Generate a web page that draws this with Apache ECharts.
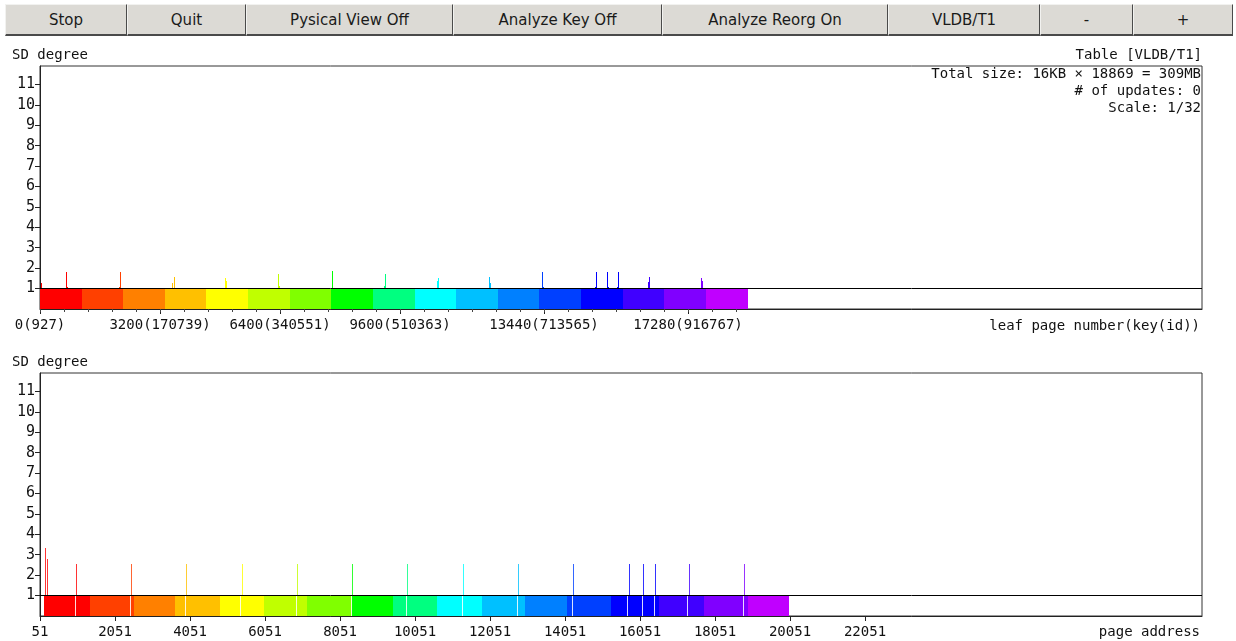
<!DOCTYPE html>
<html><head><meta charset="utf-8">
<script src="https://cdn.jsdelivr.net/npm/echarts@6/dist/echarts.min.js"></script>
<style>
html,body{margin:0;padding:0;background:#fff;width:1236px;height:641px;overflow:hidden;}
#chart{position:absolute;left:0;top:0;width:1236px;height:641px;}
#tb{position:absolute;left:5px;top:4px;height:32px;display:flex;}
.b{box-sizing:border-box;height:32px;background:#dcdad5;border-right:1px solid #4a4a4a;border-bottom:2px solid #4a4a4a;border-top:1px solid #f2f2f0;border-left:1px solid #f2f2f0;font:15px "DejaVu Sans",sans-serif;color:#1a1a1a;display:flex;align-items:center;justify-content:center;padding-top:1px;}
</style></head>
<body>
<div id="chart"></div>
<div id="tb"></div>
<script>
// ---------- data ----------
const buttonLabels = ["Stop","Quit","Pysical View Off","Analyze Key Off","Analyze Reorg On","VLDB/T1","-","+"];

const bandColors = ['#FF0000','#FF4000','#FF8000','#FFC000','#FFFF00','#C0FF00','#80FF00','#00FF00','#00FF80','#00FFFF','#00C0FF','#0080FF','#0040FF','#0000FF','#4000FF','#8000FF','#C000FF'];

// top chart: leaf page number
const topBandEdges = [0,1110,2220,3330,4440,5550,6660,7770,8880,9990,11100,12210,13320,14430,15540,16650,17760,18869];
const topSpikeX = [27,701,728,2115,2141,3528,3565,4933,4968,6347,6373,7779,9173,9200,10579,10605,11981,12000,13387,13413,14800,14827,15112,15139,15379,15405,16205,16232,17619,17645];
const topSpikeY = [1.28,1.83,1.1,1.1,1.83,1.28,1.57,1.5,1.39,1.69,1.15,1.88,1.15,1.69,1.39,1.52,1.59,1.28,1.8,1.07,1.07,1.81,1.81,1.07,1.07,1.81,1.31,1.57,1.52,1.39];
const topTickValues = [0,3200,6400,9600,13440,17280];
const topTickKeys = [927,170739,340551,510363,713565,916767];
const topMinorTicks = [0,640,1280,1920,2560,3200,3840,4480,5120,5760,6400,7040,7680,8320,8960,9600,10240,10880,11520,12160,12800,13440,14080,14720,15360,16000,16640,17280,17920,18560];

// bottom chart: page address
const bottomBandEdges = [158,1384,2558,3651,4851,6024,7171,8371,9464,10638,11838,12984,14104,15278,16558,17758,18931,20024];
const bottomSpikeX = [176,246,1011,2478,3944,5438,6904,8371,9838,11331,12798,14264,15758,16131,16451,17358,18824];
const bottomSpikeY = [3.33,2.8,2.55,2.55,2.55,2.55,2.55,2.55,2.55,2.55,2.55,2.55,2.55,2.55,2.55,2.55,2.55];
const bottomGapX = [984,2451,3918,5384,6877,8344,9811,11304,12771,14238,15704,16104,16424,17304,18798];
const bottomTickValues = [51,2051,4051,6051,8051,10051,12051,14051,16051,18051,20051,22051];

const yTickValues = [1,2,3,4,5,6,7,8,9,10,11];

// ---------- toolbar ----------
const buttonWidths = [122,119,207,209,226,152,93,100];
const tb = document.getElementById('tb');
buttonLabels.forEach((t,i)=>{const d=document.createElement('div');d.className='b';d.style.width=buttonWidths[i]+'px';d.textContent=t;tb.appendChild(d);});

// ---------- chart ----------
const FONT = '"DejaVu Sans Mono", monospace';
const FS = 14;
function colorAt(x, edges){
  for(let i=0;i<edges.length-1;i++){ if(x>=edges[i] && x<edges[i+1]) return bandColors[i]; }
  return x<edges[0] ? bandColors[0] : bandColors[bandColors.length-1];
}
function bandData(edges){ const r=[]; for(let i=0;i<edges.length-1;i++) r.push([edges[i],edges[i+1],i]); return r; }
function bandRender(params, api){
  const a = api.coord([api.value(0),1]);
  const b = api.coord([api.value(1),0]);
  const x0 = Math.round(a[0]), x1 = Math.round(b[0]);
  return {type:'rect', shape:{x:x0, y:Math.round(a[1]), width:x1-x0, height:Math.round(b[1])-Math.round(a[1])},
    style:{fill:bandColors[api.value(2)], stroke:null, lineWidth:0}};
}
function makeLineRender(colorFn, opacity){
  return function(params, api){
    const top = api.coord([api.value(0), api.value(1)]);
    const bot = api.coord([api.value(0), 0]);
    return {type:'rect', shape:{x:Math.round(top[0]), y:Math.round(top[1]), width:1, height:Math.round(bot[1])-Math.round(top[1])},
      style:{fill:colorFn(api.value(0)), stroke:null, lineWidth:0, opacity:opacity}};
  };
}

const chart = echarts.init(document.getElementById('chart'), null, {renderer:'canvas'});
const axisLineStyle = {lineStyle:{color:'#222', width:1}};
const yAxisCommon = {
  type:'value', min:0, max:11.9,
  axisLine:{show:true, ...axisLineStyle},
  axisTick:{show:true, length:5, inside:false, customValues:yTickValues, lineStyle:{color:'#222'}},
  axisLabel:{customValues:yTickValues, margin:5, color:'#111', fontFamily:FONT, fontSize:15},
  splitLine:{show:false}
};
const textStyle = {fontFamily:FONT, fontSize:FS, fill:'#111'};

chart.setOption({
  animation:false,
  grid:[
    {left:40, top:66, width:1162, height:243, show:true, borderColor:'#333', borderWidth:1, backgroundColor:'transparent'},
    {left:40, top:373, width:1162, height:243, show:true, borderColor:'#333', borderWidth:1, backgroundColor:'transparent'}
  ],
  xAxis:[
    {gridIndex:0, type:'value', min:0, max:30987,
      axisLine:{show:true, onZero:false, ...axisLineStyle},
      axisTick:{show:true, length:5, customValues:topTickValues, lineStyle:{color:'#222'}},
      axisLabel:{customValues:topTickValues, margin:9, color:'#111', fontFamily:FONT, fontSize:FS,
        formatter:(v)=>{const i=topTickValues.indexOf(v); return i>=0 ? v+'('+topTickKeys[i]+')' : '';}},
      splitLine:{show:false}},
    {gridIndex:1, type:'value', min:51, max:31038,
      axisLine:{show:true, onZero:false, ...axisLineStyle},
      axisTick:{show:true, length:5, customValues:bottomTickValues, lineStyle:{color:'#222'}},
      axisLabel:{customValues:bottomTickValues, margin:9, color:'#111', fontFamily:FONT, fontSize:FS, formatter:(v)=>String(v)},
      splitLine:{show:false}},
    {gridIndex:0, type:'value', min:0, max:30987, position:'bottom',
      axisLine:{show:false}, axisLabel:{show:false}, splitLine:{show:false},
      axisTick:{show:true, length:3, customValues:topMinorTicks, lineStyle:{color:'#444'}}}
  ],
  yAxis:[
    {gridIndex:0, ...yAxisCommon},
    {gridIndex:1, ...yAxisCommon}
  ],
  graphic:[
    {type:'text', left:12, top:48, style:{text:'SD degree', ...textStyle}},
    {type:'text', left:12, top:355, style:{text:'SD degree', ...textStyle}},
    {type:'text', right:34, top:48, style:{text:'Table [VLDB/T1]', ...textStyle}},
    {type:'text', right:35, top:67, style:{text:'Total size: 16KB \u00d7 18869 = 309MB', ...textStyle}},
    {type:'text', right:35, top:84, style:{text:'# of updates: 0', ...textStyle}},
    {type:'text', right:35, top:101, style:{text:'Scale: 1/32', ...textStyle}},
    {type:'text', right:36, top:319, style:{text:'leaf page number(key(id))', ...textStyle}},
    {type:'text', right:36, top:625, style:{text:'page address', ...textStyle}}
  ],
  series:[
    {type:'custom', xAxisIndex:0, yAxisIndex:0, z:2, renderItem:makeLineRender(x=>colorAt(x, topBandEdges), 1),
      data:topSpikeX.map((x,i)=>[x, topSpikeY[i]]), silent:true},
    {type:'custom', xAxisIndex:0, yAxisIndex:0, z:3, renderItem:bandRender, data:bandData(topBandEdges), silent:true,
      markLine:{silent:true, symbol:'none', label:{show:false}, lineStyle:{color:'#000', width:1, type:'solid'}, data:[{yAxis:1}]}},
    {type:'custom', xAxisIndex:1, yAxisIndex:1, z:2, renderItem:makeLineRender(x=>colorAt(x, bottomBandEdges), 0.8),
      data:bottomSpikeX.map((x,i)=>[x, bottomSpikeY[i]]), silent:true},
    {type:'custom', xAxisIndex:1, yAxisIndex:1, z:3, renderItem:bandRender, data:bandData(bottomBandEdges), silent:true,
      markLine:{silent:true, symbol:'none', label:{show:false}, lineStyle:{color:'#000', width:1, type:'solid'}, data:[{yAxis:1}]}},
    {type:'custom', xAxisIndex:1, yAxisIndex:1, z:4, renderItem:makeLineRender(()=>'#ffffff', 0.85),
      data:bottomGapX.map(x=>[x,1]), silent:true}
  ]
});
</script>
</body></html>
